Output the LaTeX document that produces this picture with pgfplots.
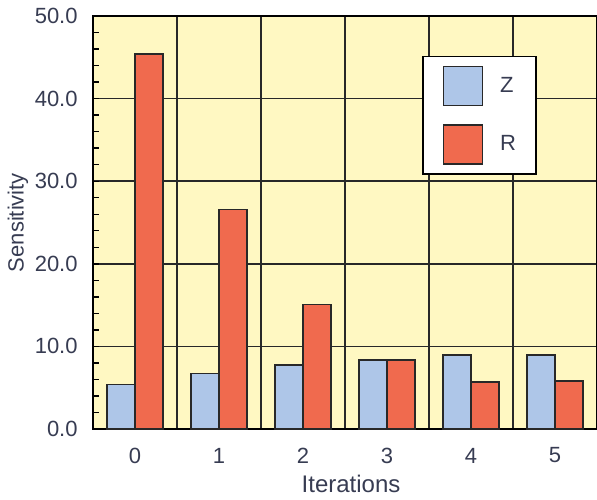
\documentclass[border=0pt]{standalone}
\usepackage{fontspec}
\setmainfont{Liberation Sans}
\usepackage{pgfplots}
\pgfplotsset{compat=1.18}

\definecolor{bgyellow}{RGB}{255,248,194}
\definecolor{zblue}{RGB}{174,198,232}
\definecolor{rred}{RGB}{240,106,78}
\definecolor{txt}{RGB}{55,60,82}
\definecolor{gridc}{RGB}{40,40,40}

\pgfplotsset{
  sqlegend/.style={legend image code/.code={\draw[##1,line width=0.6pt] (0pt,-9.75pt) rectangle (19.5pt,9.75pt);}},
}

\begin{document}
\begin{tikzpicture}
\begin{axis}[
  scale only axis,
  width=252pt, height=206.5pt,
  xmin=-0.5, xmax=5.5, ymin=0, ymax=50,
  ybar=0pt, bar width=14pt,
  axis background/.style={fill=bgyellow},
  axis line style={black, line width=0.7pt},
  xtick={0,...,5},
  minor xtick={0.5,1.5,...,4.5},
  x tick style={draw=none},
  xminorgrids=true, xmajorgrids=false,
  ytick={0,10,...,50},
  minor y tick num=4,
  ymajorgrids=true,
  ytick pos=left,
  tick align=inside,
  major tick length=3pt, minor tick length=3pt,
  y tick style={black, line width=0.7pt},
  grid style={gridc, line width=0.75pt},
  minor grid style={gridc, line width=0.75pt},
  yticklabel={\pgfmathprintnumber[fixed, fixed zerofill, precision=1]{\tick}},
  /pgf/number format/assume math mode=true,
  ticklabel style={font=\fontsize{11}{13}\selectfont, text=txt, inner sep=0pt},
  yticklabel style={anchor=east, xshift=-7.5pt},
  xticklabel style={anchor=center, yshift=-13.25pt},
  xlabel={Iterations},
  ylabel={Sensitivity},
  every axis x label/.style={at={(rel axis cs:0.512,0)}, yshift=-27.3pt, anchor=center,
    font=\fontsize{12}{14}\selectfont, text=txt},
  every axis y label/.style={at={(rel axis cs:0,0.5)}, xshift=-37.5pt, rotate=90, anchor=center,
    font=\fontsize{11}{13}\selectfont, text=txt},
  legend style={at={(rel axis cs:0.653,0.903)}, anchor=north west,
    draw=black, line width=0.7pt, fill=white,
    inner xsep=10pt, inner ysep=4.75pt,
    nodes={inner sep=0pt, font=\fontsize{11}{13}\selectfont, text=txt},
    row sep=9pt, column sep=8.5pt},
  legend cell align=left,
]
\addplot[fill=zblue, draw=gridc, line width=0.7pt, sqlegend] coordinates {
(0,5.4) (1,6.7) (2,7.75) (3,8.35) (4,8.95) (5,8.95)};
\addplot[fill=rred, draw=gridc, line width=0.7pt, sqlegend] coordinates {
(0,45.4) (1,26.6) (2,15.1) (3,8.35) (4,5.7) (5,5.8)};
\legend{Z,R}
\coordinate (ll) at (rel axis cs:0,0);
\coordinate (ur) at (rel axis cs:1,1);
\end{axis}
\pgfresetboundingbox
\useasboundingbox ([xshift=-46.5pt,yshift=-35pt]ll) rectangle ([yshift=8pt]ur);
\end{tikzpicture}
\end{document}
